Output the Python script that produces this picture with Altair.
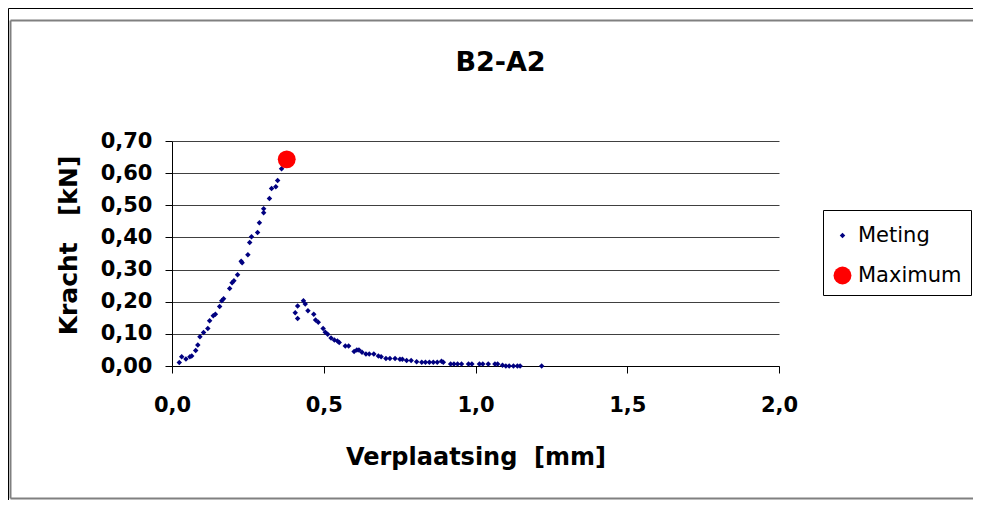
import altair as alt
import pandas as pd

# ---- data ----
meting_x = [0.024, 0.032, 0.046, 0.059, 0.065, 0.078, 0.085, 0.092, 0.104, 0.118,
            0.124, 0.136, 0.143, 0.157, 0.164, 0.170, 0.190, 0.198, 0.204, 0.216,
            0.228, 0.231, 0.250, 0.256, 0.262, 0.282, 0.288, 0.302, 0.302, 0.321,
            0.328, 0.342, 0.348, 0.361, 0.370, 0.378,
            0.406, 0.414, 0.414, 0.433, 0.439, 0.448, 0.467, 0.473, 0.482, 0.498,
            0.505, 0.513, 0.524, 0.535, 0.545, 0.551, 0.571, 0.582, 0.600, 0.609,
            0.616, 0.626, 0.639, 0.650, 0.665, 0.680, 0.689, 0.705, 0.718, 0.735,
            0.751, 0.759, 0.773, 0.788, 0.806, 0.823, 0.835, 0.848, 0.861, 0.874,
            0.888, 0.894, 0.918, 0.929, 0.941, 0.954, 0.977, 0.988, 1.013, 1.024,
            1.042, 1.064, 1.073, 1.089, 1.100, 1.111, 1.125, 1.138, 1.147, 1.218]
meting_y = [0.011, 0.029, 0.022, 0.029, 0.031, 0.048, 0.065, 0.091, 0.104, 0.117,
            0.141, 0.156, 0.161, 0.185, 0.203, 0.209, 0.241, 0.259, 0.265, 0.284,
            0.326, 0.321, 0.346, 0.384, 0.402, 0.415, 0.446, 0.477, 0.489, 0.521,
            0.552, 0.558, 0.577, 0.614, 0.630, 0.643,
            0.166, 0.187, 0.148, 0.203, 0.193, 0.172, 0.161, 0.143, 0.136, 0.117,
            0.105, 0.099, 0.087, 0.081, 0.078, 0.073, 0.062, 0.062, 0.045, 0.050,
            0.050, 0.043, 0.037, 0.037, 0.037, 0.031, 0.029, 0.023, 0.023, 0.023,
            0.021, 0.021, 0.017, 0.017, 0.013, 0.012, 0.012, 0.012, 0.012, 0.012,
            0.015, 0.012, 0.006, 0.006, 0.006, 0.006, 0.006, 0.006, 0.006, 0.006,
            0.006, 0.006, 0.006, 0.002, 0.000, 0.000, 0.000, 0.000, 0.000, 0.000]
max_x = [0.378]
max_y = [0.643]
series_names = ["Meting", "Maximum"]
series_colors = ["#000080", "#FF0000"]
series_shapes = ["diamond", "circle"]
series_sizes = [30, 320]
x_ticks = [0.0, 0.5, 1.0, 1.5, 2.0]
y_ticks = [0.0, 0.1, 0.2, 0.3, 0.4, 0.5, 0.6, 0.7]

df = pd.DataFrame({
    "x": meting_x + max_x,
    "y": meting_y + max_y,
    "serie": [series_names[0]] * len(meting_x) + [series_names[1]] * len(max_x),
})

FONT = "DejaVu Sans"
PL, PT = 164, 133
W, H = 607, 225
TOTAL_W, TOTAL_H = 965, 492

legend = alt.Legend(
    title=" ", titleFontSize=6, titlePadding=0,
    orient="none", legendX=651, legendY=69,
    strokeColor="black", fillColor="white", padding=9,
    labelFont=FONT, labelFontSize=21, labelColor="black",
    labelOffset=5, rowPadding=18, symbolStrokeWidth=0,
)

points = alt.Chart(df).mark_point(filled=True, opacity=1).encode(
    x=alt.X("x:Q", scale=alt.Scale(domain=[0, 2], nice=False),
            axis=alt.Axis(values=x_ticks, grid=False, labelFlush=False,
                          labelExpr="replace(format(datum.value,'.1f'),'.',',')",
                          title="Verplaatsing\u00a0 [mm]", titleBaseline="alphabetic",
                          titleY=98, titleX=W / 2, titleAlign="center",
                          labelPadding=21, tickSize=7)),
    y=alt.Y("y:Q", scale=alt.Scale(domain=[0, 0.7], nice=False),
            axis=alt.Axis(values=y_ticks, grid=True,
                          labelExpr="replace(format(datum.value,'.2f'),'.',',')",
                          title="Kracht\u00a0\u00a0 [kN]", titleBaseline="alphabetic",
                          titleFontSize=25,
                          titleAngle=270, titleX=-96, titleY=104, titleAlign="center",
                          labelPadding=13, tickSize=7)),
    color=alt.Color("serie:N", scale=alt.Scale(domain=series_names, range=series_colors), legend=legend),
    shape=alt.Shape("serie:N", scale=alt.Scale(domain=series_names, range=series_shapes), legend=legend),
    size=alt.Size("serie:N", scale=alt.Scale(domain=series_names, range=series_sizes), legend=legend),
    order=alt.Order("serie:N", sort="descending"),
)

# decorative frame lines around the chart (pixel positions relative to plot origin)
frame_df = pd.DataFrame({"k": [0]})
FAR = 900
o_left, o_top = 0.5 - PL, 0.5 - PT
i_left, i_top, i_bottom = 10.5 - 8 - PL, 20.5 - 8 - PT, 498.5 - 8 - PT

def hline(y, x1, color, sw):
    return alt.Chart(frame_df).mark_rule(color=color, strokeWidth=sw).encode(
        x=alt.value(x1), x2=alt.value(FAR), y=alt.value(y))

def vline(x, y1, y2, color, sw):
    return alt.Chart(frame_df).mark_rule(color=color, strokeWidth=sw).encode(
        x=alt.value(x), y=alt.value(y1), y2=alt.value(y2))

frames = [
    hline(o_top, o_left, "black", 1),
    vline(o_left, o_top, FAR, "black", 1),
    hline(i_top, i_left, "#808080", 2),
    hline(i_bottom, i_left, "#808080", 2),
    vline(i_left, i_top, i_bottom, "#808080", 2),
]

chart = alt.layer(*frames, points).properties(
    width=W, height=H,
    title=alt.TitleParams("B2-A2", font=FONT, fontSize=27, fontWeight="bold",
                          anchor="middle", dx=25, baseline="alphabetic", offset=-90,
                          color="black"),
    padding={"left": PL, "top": PT, "right": TOTAL_W - PL - W, "bottom": TOTAL_H - PT - H},
    autosize=alt.AutoSizeParams(type="none"),
).configure_view(stroke=None).configure_axis(
    labelFont=FONT, labelFontSize=21, labelFontWeight="bold", labelColor="black",
    titleFont=FONT, titleFontSize=24, titleFontWeight="bold", titleColor="black",
    domainColor="black", tickColor="black", gridColor="#404040", gridOpacity=1,
    domainWidth=1, gridWidth=1,
)

chart.save("out.html", embed_options={"renderer": "svg", "actions": False})
